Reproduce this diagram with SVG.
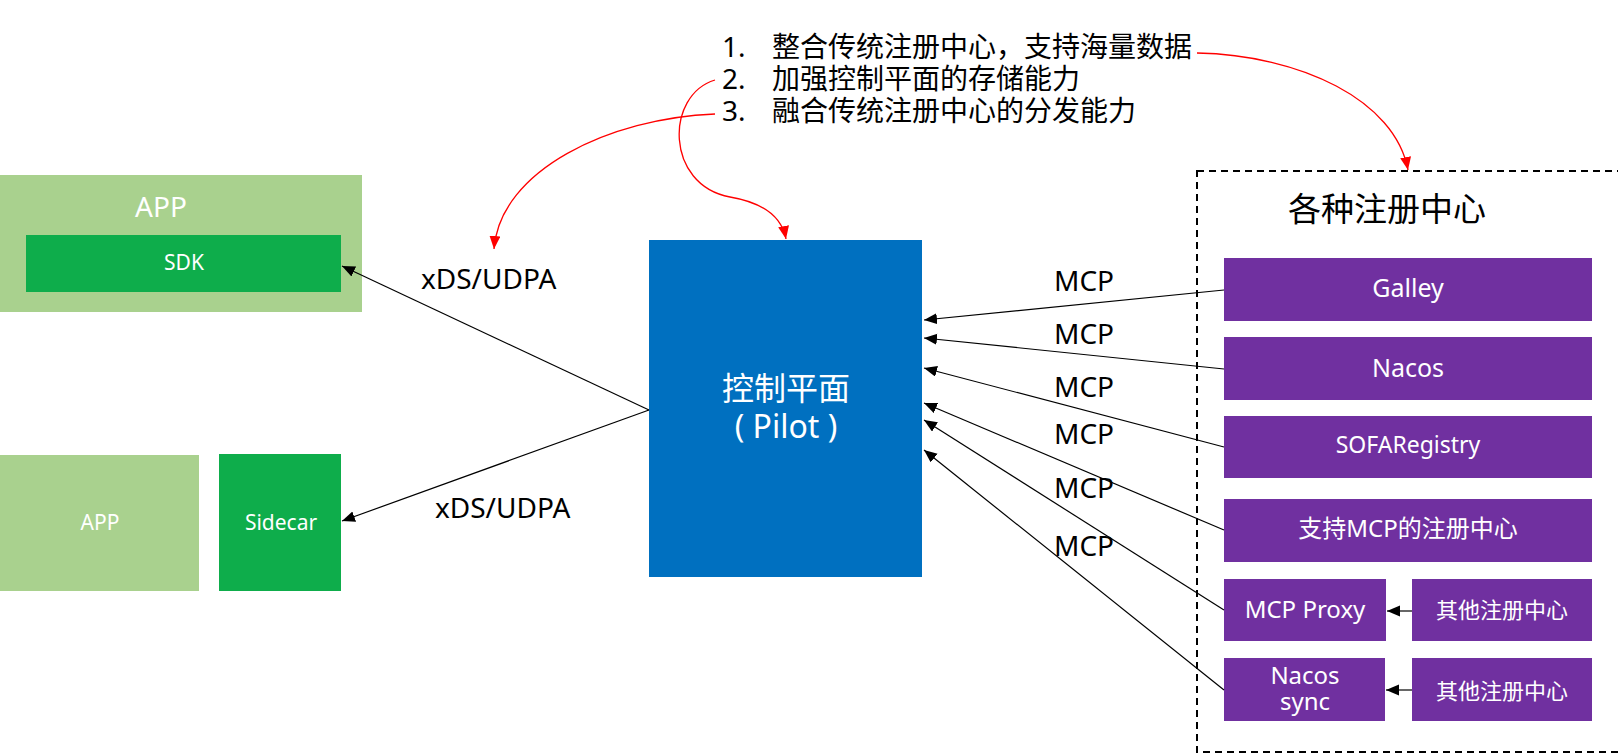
<svg xmlns="http://www.w3.org/2000/svg" width="1618" height="754" viewBox="0 0 1618 754">
<defs>
<style>
text{font-family:"Noto Sans","Noto Sans CJK SC",sans-serif;}
.w{fill:#fff;text-anchor:middle;}
.k{fill:#000;}
.lg{fill:#A9D18E;}
.dg{fill:#0EAD4B;}
.pu{fill:#7030A0;}
.ln{stroke:#000;stroke-width:1.2;fill:none;marker-end:url(#ab);}
.rd{stroke:#FF0000;stroke-width:1.3;fill:none;marker-end:url(#ar);}
</style>
<marker id="ab" markerUnits="userSpaceOnUse" markerWidth="14" markerHeight="12" refX="13" refY="5.5" orient="auto"><path d="M0,0 L13,5.5 L0,11 z" fill="#000"/></marker>
<marker id="ar" markerUnits="userSpaceOnUse" markerWidth="14" markerHeight="12" refX="13" refY="5.5" orient="auto"><path d="M0,0 L13,5.5 L0,11 z" fill="#FF0000"/></marker>
</defs>
<rect width="1618" height="754" fill="#fff"/>

<g id="notes" font-size="28">
<text class="k" x="722" y="57">1.</text>
<text class="k" x="772" y="57">整合传统注册中心，支持海量数据</text>
<text class="k" x="722" y="89">2.</text>
<text class="k" x="772" y="89">加强控制平面的存储能力</text>
<text class="k" x="722" y="121">3.</text>
<text class="k" x="772" y="121">融合传统注册中心的分发能力</text>
</g>

<g id="app-sdk">
<rect class="lg" x="0" y="175" width="362" height="137"/>
<text class="w" x="161" y="217" font-size="28">APP</text>
<rect id="sdk" class="dg" x="26" y="235" width="315" height="57"/>
<text class="w" x="184" y="270" font-size="21">SDK</text>
</g>

<g id="app2">
<rect class="lg" x="0" y="455" width="199" height="136"/>
<text class="w" x="100" y="530" font-size="21">APP</text>
</g>
<g id="sidecar">
<rect class="dg" x="219" y="454" width="122" height="137"/>
<text class="w" x="281" y="530" font-size="21">Sidecar</text>
</g>

<g id="pilot">
<rect x="649" y="240" width="273" height="337" fill="#0070C0"/>
<text class="w" x="786" y="400" font-size="32">控制平面</text>
<text class="w" x="786" y="438" font-size="32">( Pilot )</text>
</g>

<g id="registries">
<rect x="1197" y="171" width="430" height="581" fill="none" stroke="#000" stroke-width="2" stroke-dasharray="7,5"/>
<text class="k" x="1387" y="221" font-size="33" text-anchor="middle">各种注册中心</text>
</g>

<g id="galley"><rect class="pu" x="1224" y="258" width="368" height="63"/><text class="w" x="1408" y="297" font-size="25">Galley</text></g>
<g id="nacos"><rect class="pu" x="1224" y="337" width="368" height="63"/><text class="w" x="1408" y="377" font-size="25">Nacos</text></g>
<g id="sofa"><rect class="pu" x="1224" y="416" width="368" height="62"/><text class="w" x="1408" y="453" font-size="23">SOFARegistry</text></g>
<g id="mcp-reg"><rect class="pu" x="1224" y="499" width="368" height="63"/><text class="w" x="1408" y="537" font-size="24">支持MCP的注册中心</text></g>
<g id="mcp-proxy"><rect class="pu" x="1224" y="579" width="162" height="62"/><text class="w" x="1305" y="618" font-size="24">MCP Proxy</text></g>
<g id="other1"><rect class="pu" x="1412" y="579" width="180" height="62"/><text class="w" x="1502" y="618" font-size="22">其他注册中心</text></g>
<g id="nacos-sync"><rect class="pu" x="1224" y="658" width="161" height="63"/><text class="w" x="1305" y="684" font-size="24">Nacos</text><text class="w" x="1305" y="710" font-size="24">sync</text></g>
<g id="other2"><rect class="pu" x="1412" y="658" width="180" height="63"/><text class="w" x="1502" y="699" font-size="22">其他注册中心</text></g>

<g id="connectors">
<path class="ln" d="M649,410 L342,266"/>
<path class="ln" d="M649,410 L342,521"/>
<path class="ln" d="M1224,290 L924,320"/>
<path class="ln" d="M1224,369 L924,338"/>
<path class="ln" d="M1224,447 L924,368"/>
<path class="ln" d="M1224,530 L924,403"/>
<path class="ln" d="M1224,610 L924,420"/>
<path class="ln" d="M1224,690 L924,450"/>
<path class="ln" d="M1412,611 L1387,611"/>
<path class="ln" d="M1412,690 L1386,690"/>
<path class="rd" d="M1197,53 C1300,55 1395,100 1408,170"/>
<path class="rd" d="M715,80 C665,95 665,185 730,197 C765,203 782,218 786,239"/>
<path class="rd" d="M715,114 C610,118 500,170 494,249"/>
</g>

<g id="labels" font-size="28">
<text class="k" x="421" y="289">xDS/UDPA</text>
<text class="k" x="435" y="518">xDS/UDPA</text>
<text class="k" x="1054" y="291">MCP</text>
<text class="k" x="1054" y="344">MCP</text>
<text class="k" x="1054" y="397">MCP</text>
<text class="k" x="1054" y="444">MCP</text>
<text class="k" x="1054" y="498">MCP</text>
<text class="k" x="1054" y="556">MCP</text>
</g>
</svg>
